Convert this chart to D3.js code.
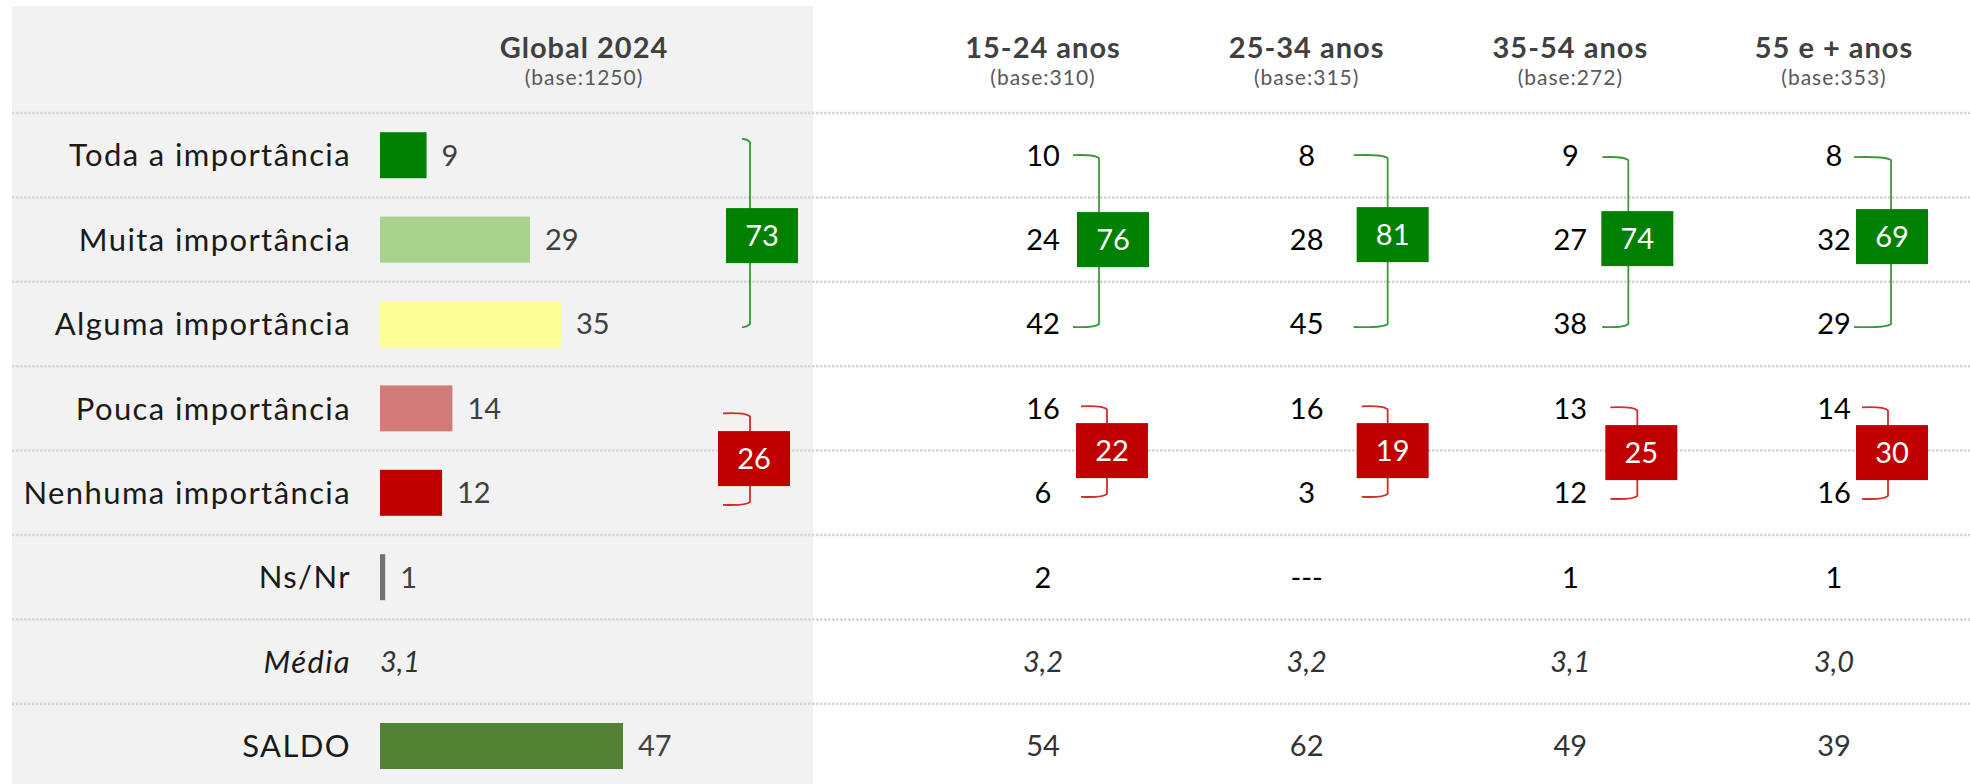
<!DOCTYPE html>
<html><head><meta charset="utf-8">
<script src="https://cdn.jsdelivr.net/npm/d3@7"></script>
<style>
body{margin:0;background:#fff;}
svg text{font-family:Lato,"Open Sans",sans-serif;}
</style>
</head><body>
<svg id="chart" width="1970" height="784"></svg>
<script>
// ---------- DATA ----------
const categories = ["Toda a importância","Muita importância","Alguma importância","Pouca importância","Nenhuma importância","Ns/Nr","Média","SALDO"];
const globalTitle = "Global 2024";
const globalBase = 1250;
const globalValues = [9, 29, 35, 14, 12, 1, 3.1, 47];
const globalTotals = [73, 26];           // important / not important

const ageGroups = ["15-24 anos","25-34 anos","35-54 anos","55 e + anos"];
const ageBases = [310, 315, 272, 353];
const age1524 = [10, 24, 42, 16, 6, 2, 3.2, 54];
const age2534 = [8, 28, 45, 16, 3, null, 3.2, 62];
const age3554 = [9, 27, 38, 13, 12, 1, 3.1, 49];
const age55plus = [8, 32, 29, 14, 16, 1, 3.0, 39];
const ageValues = [age1524, age2534, age3554, age55plus];
const ageImportant = [76, 81, 74, 69];
const ageUnimportant = [22, 19, 25, 30];

// ---------- STYLE / LAYOUT ----------
const barColors = ["#008000","#a9d18e","#ffff99","#d27b78","#c00000","#767171",null,"#548235"];
const greenBox = "#008000", redBox = "#c00000";
const greenLine = "#3a9a3a", redLine = "#d42c2c";
// bracket offsets (px) relative to each column's anchor x
const globalBracket = {gTick:362, gLine:370, gBox:346, gCy:-4, rTick:343, rLine:370, rBox:338, rCy:8, gTop:-17, gBot:4, rTop:4, rBot:13};
const ageBrackets = [
  {gTick:30, gLine:56, gBox:34, gCy:0,  rTick:38, rLine:64, rBox:33, rCy:0, gTop:-1, gBot:4, rTop:-3, rBot:5},
  {gTick:47, gLine:81, gBox:50, gCy:-5, rTick:55, rLine:81, rBox:50, rCy:0, gTop:-1, gBot:4, rTop:-3, rBot:5},
  {gTick:32, gLine:58, gBox:31, gCy:-1, rTick:40, rLine:67, rBox:35, rCy:2, gTop:1,  gBot:4, rTop:-2, rBot:7},
  {gTick:20, gLine:57, gBox:22, gCy:-3, rTick:28, rLine:54, rBox:22, rCy:2, gTop:1,  gBot:4, rTop:-2, rBot:7}
];
const boxW = 72, boxH = 55;

const svg = d3.select("#chart");
const W = 1970, H = 784;

const y = d3.scaleBand().domain(categories).range([113, 113 + 8 * 84.4]);
const yc = c => y(c) + y.bandwidth() / 2;
const x = d3.scaleLinear().domain([0, 100]).range([380, 897]);
const colX = d3.scalePoint().domain(ageGroups).range([1043, 1834]);
const fmtDec = v => d3.format(".1f")(v).replace(".", ",");

// background panel
svg.append("rect").attr("x", 12).attr("y", 6).attr("width", 801).attr("height", H - 6).attr("fill", "#f2f2f2");

// dotted separators
svg.append("g").selectAll("line").data(categories).join("line")
  .attr("x1", 12).attr("x2", W)
  .attr("y1", d => y(d)).attr("y2", d => y(d))
  .attr("stroke", "#d6d6d6").attr("stroke-width", 2.5).attr("stroke-dasharray", "2.5,1.5");

// headers
const hdr = svg.append("g");
function header(cx, title, base) {
  hdr.append("text").attr("x", cx).attr("y", 58).attr("text-anchor", "middle")
    .attr("font-size", 29).attr("font-weight", 700).attr("letter-spacing", 1)
    .attr("fill", "#404040").text(title);
  hdr.append("text").attr("x", cx).attr("y", 85).attr("text-anchor", "middle")
    .attr("font-size", 21).attr("letter-spacing", 1).attr("fill", "#595959").text(`(base:${base})`);
}
header(584, globalTitle, globalBase);
ageGroups.forEach((g, i) => header(colX(g), g, ageBases[i]));

// row labels
svg.append("g").selectAll("text").data(categories).join("text")
  .attr("x", 351).attr("y", d => yc(d)).attr("dy", "0.36em").attr("text-anchor", "end")
  .attr("font-size", 31).attr("letter-spacing", 1.4).attr("fill", "#1a1a1a")
  .attr("font-style", d => d === "Média" ? "italic" : "normal")
  .text(d => d);

// global bars
const barRows = categories.map((c, i) => ({c, v: globalValues[i], color: barColors[i]})).filter(d => d.color);
svg.append("g").selectAll("rect").data(barRows).join("rect")
  .attr("x", x(0)).attr("y", d => yc(d.c) - 23)
  .attr("width", d => x(d.v) - x(0)).attr("height", 46)
  .attr("fill", d => d.color);
svg.append("g").selectAll("text").data(barRows).join("text")
  .attr("x", d => x(d.v) + 15).attr("y", d => yc(d.c)).attr("dy", "0.36em")
  .attr("font-size", 29).attr("fill", "#404040").text(d => d.v);
// global média
svg.append("text").attr("x", x(0)).attr("y", yc("Média")).attr("dy", "0.36em")
  .attr("font-size", 29).attr("font-style", "italic").attr("fill", "#333")
  .text(fmtDec(globalValues[6]));

// age columns values
ageGroups.forEach((g, gi) => {
  const vals = ageValues[gi];
  svg.append("g").selectAll("text").data(categories).join("text")
    .attr("x", colX(g)).attr("y", d => yc(d)).attr("dy", "0.36em").attr("text-anchor", "middle")
    .attr("font-size", 29)
    .attr("font-style", d => d === "Média" ? "italic" : "normal")
    .attr("fill", (d, i) => i >= 6 ? "#333" : "#000")
    .text((d, i) => vals[i] === null ? "---" : (i === 6 ? fmtDec(vals[i]) : vals[i]));
});

// brackets
function bracket(ax, L, total, neg) {
  const top = neg ? yc(categories[3]) + L.rTop : yc(categories[0]) + L.gTop;
  const bot = neg ? yc(categories[4]) + L.rBot : yc(categories[2]) + L.gBot;
  const tx = ax + (neg ? L.rTick : L.gTick);
  const lx = ax + (neg ? L.rLine : L.gLine);
  const bx = ax + (neg ? L.rBox : L.gBox);
  const cy = (neg ? (yc(categories[3]) + yc(categories[4])) / 2 : yc(categories[1])) + (neg ? L.rCy : L.gCy);
  const r = 4;
  const p = d3.path();
  p.moveTo(tx, top + 1); p.quadraticCurveTo(lx - 4, top, lx, top + r);
  p.lineTo(lx, bot - r); p.quadraticCurveTo(lx - 4, bot, tx, bot - 1);
  svg.append("path").attr("d", p.toString()).attr("fill", "none")
    .attr("stroke", neg ? redLine : greenLine).attr("stroke-width", 1.8);
  svg.append("rect").attr("x", bx).attr("y", cy - boxH / 2).attr("width", boxW).attr("height", boxH)
    .attr("fill", neg ? redBox : greenBox);
  svg.append("text").attr("x", bx + boxW / 2).attr("y", cy).attr("dy", "0.36em").attr("text-anchor", "middle")
    .attr("font-size", 29).attr("fill", "#fff").text(total);
}
bracket(x(0), globalBracket, globalTotals[0], false);
bracket(x(0), globalBracket, globalTotals[1], true);
ageGroups.forEach((g, i) => {
  bracket(colX(g), ageBrackets[i], ageImportant[i], false);
  bracket(colX(g), ageBrackets[i], ageUnimportant[i], true);
});
</script>
</body></html>
